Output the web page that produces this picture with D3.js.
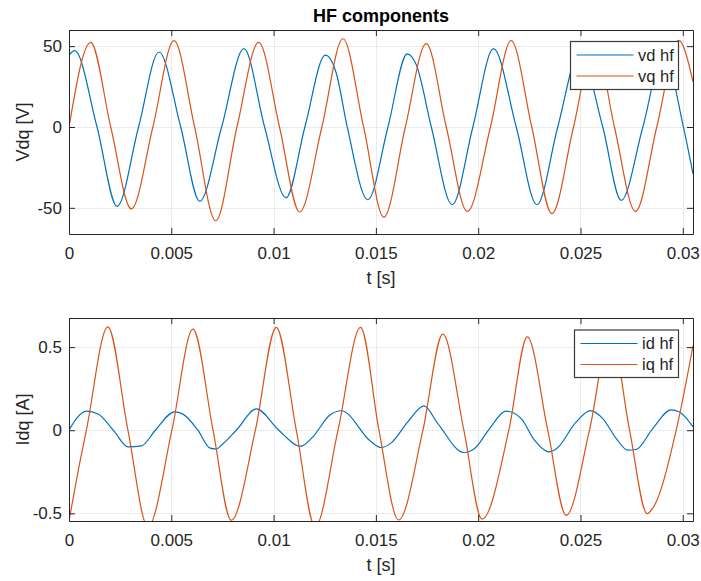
<!DOCTYPE html>
<html><head><meta charset="utf-8">
<script src="https://cdn.jsdelivr.net/npm/d3@7"></script>
<style>
html,body{margin:0;padding:0;background:#fff;}
svg{display:block;font-family:"Liberation Sans",Arial,Helvetica,sans-serif;}
</style></head><body>
<svg id="chart" width="701" height="581"></svg>
<script>
// Time axis
const timeTicks = [0, 0.005, 0.01, 0.015, 0.02, 0.025, 0.03];
const timeTickLabels = ["0", "0.005", "0.01", "0.015", "0.02", "0.025", "0.03"];
const timeMax = 0.0305;

// Voltage axis
const vdqTicks = [-50, 0, 50];
const vdqTickLabels = ["-50", "0", "50"];
const vdqLimits = [-66.2, 60];

// Current axis
const idqTicks = [-0.5, 0, 0.5];
const idqTickLabels = ["-0.5", "0", "0.5"];
const idqLimits = [-0.546, 0.675];

const seriesNamesV = ["vd hf", "vq hf"];
const seriesNamesI = ["id hf", "iq hf"];

// HF voltage components [t (s), V]
const vdHf = [
  [0, 44.4], [0.00028, 47.2], [0.00137, 0], [0.00235, -49.1], [0.0034, 0],
  [0.0044, 46.4], [0.00546, 0], [0.00639, -46.0], [0.00746, 0], [0.00855, 48.5],
  [0.00956, 0], [0.01061, -43.8], [0.01153, 0], [0.01253, 44.4], [0.01306, 33.4],
  [0.0136, 0], [0.01461, -45.0], [0.01559, 0], [0.01653, 45.2], [0.01697, 38.6],
  [0.01771, 0], [0.01873, -48.1], [0.01974, 0], [0.02075, 48.5], [0.02186, 0],
  [0.02287, -48.1], [0.02389, 0], [0.02495, 46], [0.02609, 0], [0.02699, -45.4],
  [0.02805, 0], [0.02906, 46], [0.03003, 0], [0.0305, -29]
];
const vqHf = [
  [0, 0], [0.00106, 52.4], [0.00204, 0], [0.00305, -50.7], [0.0041, 0],
  [0.00513, 53.4], [0.00614, 0], [0.00717, -58.0], [0.00821, 0], [0.00927, 52.4],
  [0.01029, 0], [0.01127, -52.6], [0.01236, 0], [0.01339, 54.6], [0.0144, 0],
  [0.01539, -55.7], [0.01644, 0], [0.01746, 51.6], [0.01844, 0], [0.01947, -52.2],
  [0.0206, 0], [0.02161, 53.4], [0.02262, 0], [0.0236, -53.6], [0.02466, 0],
  [0.02569, 53], [0.02666, 0], [0.02769, -52.2], [0.02873, 0], [0.0298, 53.6],
  [0.0305, 28]
];

// HF current components [t (s), A]
const idHf = [
  [0, 0], [0.00036, 0.07], [0.00085, 0.115], [0.00142, 0.098], [0.00223, -0.01],
  [0.00288, -0.10], [0.00354, -0.094], [0.00422, 0], [0.00516, 0.11], [0.00557, 0.097],
  [0.0063, 0], [0.0069, -0.108], [0.0072, -0.113], [0.00745, -0.09], [0.00818, 0],
  [0.00916, 0.128], [0.01025, 0], [0.01132, -0.097], [0.01192, -0.04], [0.01274, 0.09],
  [0.01331, 0.117], [0.01477, -0.07], [0.01526, -0.104], [0.01575, -0.076], [0.01656, 0.05],
  [0.01735, 0.146], [0.01803, 0.04], [0.0193, -0.134], [0.01982, -0.11], [0.02056, 0.01],
  [0.02135, 0.115], [0.0221, 0.07], [0.02275, -0.06], [0.02345, -0.13], [0.02384, -0.11],
  [0.02479, 0.05], [0.02549, 0.118], [0.02609, 0.07], [0.02675, -0.05], [0.02731, -0.12],
  [0.02772, -0.116], [0.02853, 0.01], [0.02943, 0.122], [0.02984, 0.11], [0.0305, 0.02]
];
const iqHf = [
  [0, -0.545], [0.00044, -0.25], [0.00085, 0], [0.0019, 0.622], [0.00288, 0],
  [0.00386, -0.58], [0.00503, 0], [0.00606, 0.608], [0.00704, 0], [0.00793, -0.542],
  [0.00911, 0], [0.01013, 0.619], [0.01111, 0], [0.01203, -0.58], [0.01315, 0],
  [0.01425, 0.619], [0.01515, 0], [0.01611, -0.54], [0.0173, 0], [0.01827, 0.578],
  [0.0193, 0], [0.02019, -0.535], [0.0215, 0], [0.0224, 0.562], [0.0234, 0],
  [0.0243, -0.512], [0.02544, 0], [0.02647, 0.59], [0.0274, 0], [0.02826, -0.502],
  [0.02853, -0.47], [0.02968, 0], [0.0305, 0.508]
];

const ink = "#262626";
const colors = ["#0072BD", "#D95319"];
const X0 = 69, X1 = 693;
const svg = d3.select("#chart");
const x = d3.scaleLinear().domain([0, timeMax]).range([X0, X1]);

function panel(opt, idx) {
  const y = d3.scaleLinear().domain(opt.limits).range([opt.bottom, opt.top]);
  const g = svg.append("g");

  // grid
  const grid = g.append("g").attr("stroke", "#ebebeb").attr("stroke-width", 1);
  timeTicks.forEach(t => grid.append("line")
    .attr("x1", Math.round(x(t)) + 0.5).attr("x2", Math.round(x(t)) + 0.5)
    .attr("y1", opt.top).attr("y2", opt.bottom));
  opt.ticks.forEach(v => grid.append("line")
    .attr("x1", X0).attr("x2", X1)
    .attr("y1", Math.round(y(v)) + 0.5).attr("y2", Math.round(y(v)) + 0.5));

  // data
  const clipId = "clip" + idx;
  g.append("clipPath").attr("id", clipId).append("rect")
    .attr("x", X0).attr("y", opt.top).attr("width", X1 - X0).attr("height", opt.bottom - opt.top);
  const line = d3.line().x(d => x(d[0])).y(d => y(d[1])).curve(d3.curveMonotoneX);
  const plot = g.append("g").attr("clip-path", `url(#${clipId})`);
  opt.series.forEach((s, i) => plot.append("path")
    .attr("d", line(s)).attr("fill", "none")
    .attr("stroke", colors[i]).attr("stroke-width", 1.2).attr("stroke-linejoin", "round"));

  // axes
  const styleAxis = sel => {
    sel.attr("font-size", 17).attr("font-family", null);
    sel.selectAll("path,line").attr("stroke", ink);
    sel.selectAll("text").attr("fill", ink);
  };
  g.append("g").attr("transform", `translate(0,${opt.bottom})`)
    .call(d3.axisBottom(x).tickValues(timeTicks).tickFormat((d, i) => timeTickLabels[i])
      .tickSizeInner(-6).tickSizeOuter(0).tickPadding(12.5)).call(styleAxis);
  g.append("g").attr("transform", `translate(0,${opt.top})`)
    .call(d3.axisTop(x).tickValues(timeTicks).tickFormat("")
      .tickSizeInner(-6).tickSizeOuter(0)).call(styleAxis);
  g.append("g").attr("transform", `translate(${X0},0)`)
    .call(d3.axisLeft(y).tickValues(opt.ticks).tickFormat((d, i) => opt.tickLabels[i])
      .tickSizeInner(-6).tickSizeOuter(0).tickPadding(7)).call(styleAxis);
  g.append("g").attr("transform", `translate(${X1},0)`)
    .call(d3.axisRight(y).tickValues(opt.ticks).tickFormat("")
      .tickSizeInner(-6).tickSizeOuter(0)).call(styleAxis);

  // labels
  g.append("text").attr("x", (X0 + X1) / 2).attr("y", opt.bottom + 50)
    .attr("text-anchor", "middle").attr("font-size", 18).attr("fill", ink).text("t [s]");
  g.append("text").attr("transform", `translate(29,${(opt.top + opt.bottom) / 2}) rotate(-90)`)
    .attr("text-anchor", "middle").attr("font-size", 18).attr("fill", ink).text(opt.ylabel);

  // legend
  const L = opt.legend;
  const lg = g.append("g");
  lg.append("rect").attr("x", L.x).attr("y", L.y).attr("width", L.w).attr("height", L.h)
    .attr("fill", "#fff").attr("stroke", "#3a3a3a").attr("stroke-width", 1.2);
  opt.names.forEach((n, i) => {
    const yy = L.y + 13.5 + i * 21;
    lg.append("line").attr("x1", L.x + 6).attr("x2", L.x + 63)
      .attr("y1", yy).attr("y2", yy).attr("stroke", colors[i]).attr("stroke-width", 1.2);
    lg.append("text").attr("x", L.x + 67.5).attr("y", yy).attr("dy", "0.35em")
      .attr("font-size", 16.5).attr("fill", ink).text(n);
  });
}

panel({top: 30, bottom: 234, limits: vdqLimits, ticks: vdqTicks, tickLabels: vdqTickLabels,
  ylabel: "Vdq [V]", series: [vdHf, vqHf], names: seriesNamesV,
  legend: {x: 570.5, y: 41.5, w: 108, h: 48}}, 0);
panel({top: 318, bottom: 521, limits: idqLimits, ticks: idqTicks, tickLabels: idqTickLabels,
  ylabel: "Idq [A]", series: [idHf, iqHf], names: seriesNamesI,
  legend: {x: 574.5, y: 330, w: 104, h: 47.5}}, 1);

svg.append("text").attr("x", (X0 + X1) / 2).attr("y", 21.5)
  .attr("text-anchor", "middle").attr("font-size", 18).attr("font-weight", "bold")
  .attr("fill", "#000").text("HF components");
</script>
</body></html>
